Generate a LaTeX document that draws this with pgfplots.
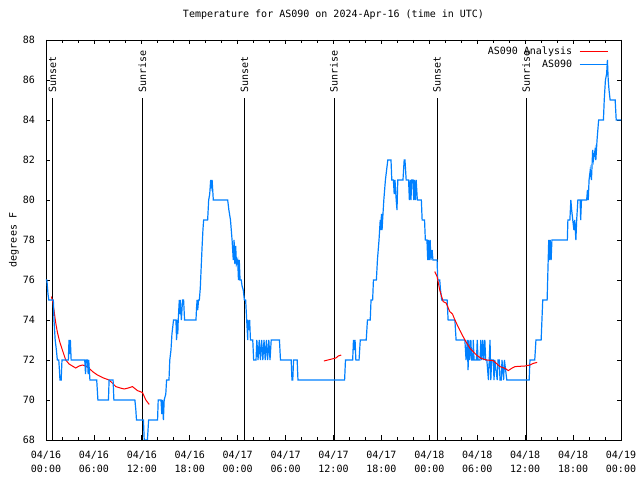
\documentclass[border=0pt]{standalone}
\usepackage{fontspec}
\setmainfont{DejaVu Sans Mono}
\usepackage{pgfplots}
\usepackage{pgfplotstable}
\pgfplotsset{compat=1.18}
\definecolor{asblue}{RGB}{0,128,255}
\definecolor{asred}{RGB}{255,0,0}

\pgfplotstableread{
h T
0 76
0.1 76
0.15 75.8
0.25 75.3
0.35 75
0.92 75
1.0 74
1.15 73
1.3 72.5
1.42 72
1.6 72
1.68 71.5
1.75 71
1.9 71
2.0 72
2.8 72
2.88 73
2.95 72.3
3.05 73
3.15 72
4.85 72
4.95 71.3
5.05 72
5.2 72
5.28 71.3
5.35 72
5.5 71
6.35 71
6.5 70
7.82 70
7.9 71
8.4 71
8.5 70
11.13 70
11.25 69.5
11.33 69
12.2 69
12.3 68
12.7 68
12.85 69
13.97 69
14.05 70
14.4 70
14.5 69.3
14.6 70
14.7 69
14.8 70
15.0 70.3
15.1 71
15.4 71
15.5 72
15.65 72.5
15.77 73.3
15.97 74
16.27 74
16.35 73
16.45 74
16.5 73.3
16.56 74
16.69 75
16.75 74.3
16.81 75
16.95 74
17.1 75
17.23 75
17.35 74
18.78 74
18.85 74.6
18.92 75
19.0 74.5
19.1 75
19.2 75
19.32 75.6
19.45 76.8
19.55 77.7
19.65 78.5
19.74 79
20.24 79
20.37 80
20.5 80.3
20.62 81
20.7 80.7
20.8 81
20.95 80
22.75 80
22.9 79.5
23.1 79
23.3 78
23.45 77
23.55 78
23.65 76.8
23.75 77.7
23.85 76.8
24.0 77
24.1 76
24.2 77
24.3 76
24.45 76
24.55 75.7
24.7 75.5
24.84 75
25.0 75
25.13 74
25.26 73
25.3 74
25.4 73.5
25.5 74
25.6 73
25.89 73
26.0 72
26.3 72
26.4 73
26.55 72
26.7 73
26.85 72
27.0 73
27.15 72
27.3 73
27.45 72
27.6 73
27.75 72
27.9 73
28.05 72
28.2 73
29.23 73
29.36 72
30.7 72
30.8 71
30.9 71
31.0 72
31.45 72
31.55 71
37.39 71
37.5 72
38.4 72
38.5 73
38.6 72.5
38.7 73
38.8 72
39.2 72
39.35 73
40.1 73
40.25 74
40.6 74
40.7 75
40.9 75
41.0 76
41.37 76
41.5 77
41.7 78
41.85 79
41.95 78.5
42.0 79.3
42.08 78.5
42.15 79
42.3 80
42.5 81
42.8 82
43.2 82
43.3 81
43.5 81
43.6 80.3
43.7 81
43.85 80
43.95 79.5
44.05 81
44.7 81
44.85 82
44.95 82
45.1 81
45.4 81
45.5 80
45.6 81
45.7 80
45.8 81
45.95 81
46.05 80
46.15 81
46.25 80
46.35 81
46.5 80
47.0 80
47.1 79
47.4 79
47.5 78
47.7 78
47.8 77
47.9 78
48.0 77
48.1 78
48.2 77
48.35 77.5
48.45 77
48.97 77
49.05 76
49.3 76
49.4 75.5
49.55 75
50.23 75
50.35 74
51.2 74
51.35 73
52.45 73
52.6 72
52.75 73
52.85 71.5
52.95 73
53.05 72
53.2 73
53.3 72
53.45 72
53.5 73
53.6 72
53.9 72
54.0 73
54.1 72
54.35 72
54.45 73
54.55 72
54.7 73
54.8 72
54.95 73
55.05 72
55.2 72
55.3 71.5
55.4 71
55.5 72
55.6 73
55.7 71
55.8 72
56.0 72
56.1 71
56.2 72
56.35 71.5
56.5 71
56.6 72
56.75 72
56.85 71
57.0 71
57.1 72
57.3 71
57.4 72
57.55 71.5
57.7 71
60.5 71
60.6 72
61.2 72
61.35 73
62.0 73
62.1 74
62.2 75
62.75 75
62.85 76.5
62.95 78
63.05 77
63.15 78
63.25 77
63.35 78
65.28 78
65.35 79
65.6 79
65.72 80
65.82 79.5
65.96 79
66.1 78.5
66.2 79
66.35 78
66.45 79
66.6 80
66.88 80
66.95 79
67.05 80
67.7 80
67.8 80.5
67.9 80
68.0 81
68.15 81.5
68.3 81
68.45 82.5
68.55 82
68.75 82.5
68.85 82
69.0 83
69.2 84
69.8 84
69.9 85
70.05 86
70.2 86.3
70.3 87
70.4 86
70.5 85.5
70.64 85
71.27 85
71.4 84
72 84
}\blueobs

\pgfplotstableread{
h T
0.67 75.17
0.85 74.9
1.0 74.5
1.2 73.9
1.42 73.4
1.71 72.92
2.05 72.5
2.47 72.0
2.89 71.8
3.3 71.7
3.72 71.6
4.15 71.7
4.56 71.75
5.0 71.7
5.4 71.58
5.9 71.4
6.44 71.25
7.2 71.1
7.9 71.0
8.3 70.85
8.74 70.67
9.3 70.6
9.79 70.55
10.3 70.6
10.83 70.67
11.2 70.55
11.46 70.47
12.09 70.37
12.5 70.0
12.92 69.78
}\redA

\pgfplotstableread{
h T
34.8 71.95
35.3 72.0
35.8 72.05
36.3 72.1
36.6 72.2
36.97 72.25
}\redB

\pgfplotstableread{
h T
48.68 76.42
48.97 76.17
49.3 75.5
49.73 74.92
50.1 74.85
50.56 74.42
50.9 74.3
51.2 74.0
51.8 73.5
52.45 73.0
53.1 72.58
53.9 72.25
54.5 72.08
55.17 72.0
56.0 71.97
56.4 71.83
56.84 71.67
57.5 71.58
57.88 71.47
58.3 71.58
58.72 71.67
59.97 71.7
60.6 71.75
61.0 71.83
61.5 71.88
}\redC

\begin{document}
\begin{tikzpicture}[font=\fontsize{10bp}{14bp}\selectfont]
\useasboundingbox (-46bp,-40bp) rectangle (594bp,440bp);
\begin{axis}[
  at={(0,0)}, anchor=south west,
  scale only axis, width=575bp, height=400bp,
  xmin=0, xmax=72, ymin=68, ymax=88,
  enlargelimits=false,
  axis line style={line width=0.8bp},
  every tick/.style={black, line width=0.8bp},
  tick align=inside,
  xtick pos=both, ytick pos=both,
  major tick length=4.5bp, minor tick length=3bp,
  xtick={0,6,...,72},
  minor xtick={0,2,...,72},
  ytick={68,70,...,88},
  xticklabels={{04/16\\00:00},{04/16\\06:00},{04/16\\12:00},{04/16\\18:00},{04/17\\00:00},{04/17\\06:00},{04/17\\12:00},{04/17\\18:00},{04/18\\00:00},{04/18\\06:00},{04/18\\12:00},{04/18\\18:00},{04/19\\00:00}},
  xticklabel style={align=center, anchor=north, inner sep=0pt, yshift=-11bp},
  yticklabel style={anchor=east, inner sep=0pt, xshift=-11bp},
  /pgf/number format/assume math mode=true,
  title={Temperature for AS090 on 2024-Apr-16 (time in UTC)},
  title style={at={(0.5,1)}, anchor=base, inner sep=0pt, yshift=16.4bp},
  ylabel={degrees F},
  ylabel style={at={(axis description cs:-0.0557,0.5)}, anchor=center, inner sep=0pt},
  legend plot pos=right,
  legend cell align=right,
  legend image code/.code={\draw[#1] (0bp,0bp) -- (28bp,0bp);},
  legend style={at={(1,1)}, anchor=north east, xshift=-12.5bp, yshift=-6.5bp,
    draw=none, fill=none, inner sep=0pt, row sep=3bp, column sep=7bp,
    nodes={inner sep=0pt, text height=7.5bp, text depth=2.5bp}},
]
% sunrise / sunset lines
\addplot[black, line width=0.8bp, forget plot] coordinates {(0.8,68) (0.8,85.1)};
\addplot[black, line width=0.8bp, forget plot] coordinates {(12.08,68) (12.08,85.1)};
\addplot[black, line width=0.8bp, forget plot] coordinates {(24.84,68) (24.84,85.1)};
\addplot[black, line width=0.8bp, forget plot] coordinates {(36.05,68) (36.05,85.1)};
\addplot[black, line width=0.8bp, forget plot] coordinates {(48.95,68) (48.95,85.1)};
\addplot[black, line width=0.8bp, forget plot] coordinates {(60.12,68) (60.12,85.1)};
\node[rotate=90, anchor=west, inner sep=0pt] at (axis cs:0.8,85.35) {Sunset};
\node[rotate=90, anchor=west, inner sep=0pt] at (axis cs:12.08,85.35) {Sunrise};
\node[rotate=90, anchor=west, inner sep=0pt] at (axis cs:24.84,85.35) {Sunset};
\node[rotate=90, anchor=west, inner sep=0pt] at (axis cs:36.05,85.35) {Sunrise};
\node[rotate=90, anchor=west, inner sep=0pt] at (axis cs:48.95,85.35) {Sunset};
\node[rotate=90, anchor=west, inner sep=0pt] at (axis cs:60.12,85.35) {Sunrise};
% data
\addplot[asred, line width=1bp] table[x=h, y=T] {\redA};
\addlegendentry{AS090 Analysis}
\addplot[asblue, line width=1.2bp] table[x=h, y=T] {\blueobs};
\addlegendentry{AS090}
\addplot[asred, line width=1bp, forget plot] table[x=h, y=T] {\redB};
\addplot[asred, line width=1bp, forget plot] table[x=h, y=T] {\redC};
\end{axis}
\end{tikzpicture}
\end{document}
